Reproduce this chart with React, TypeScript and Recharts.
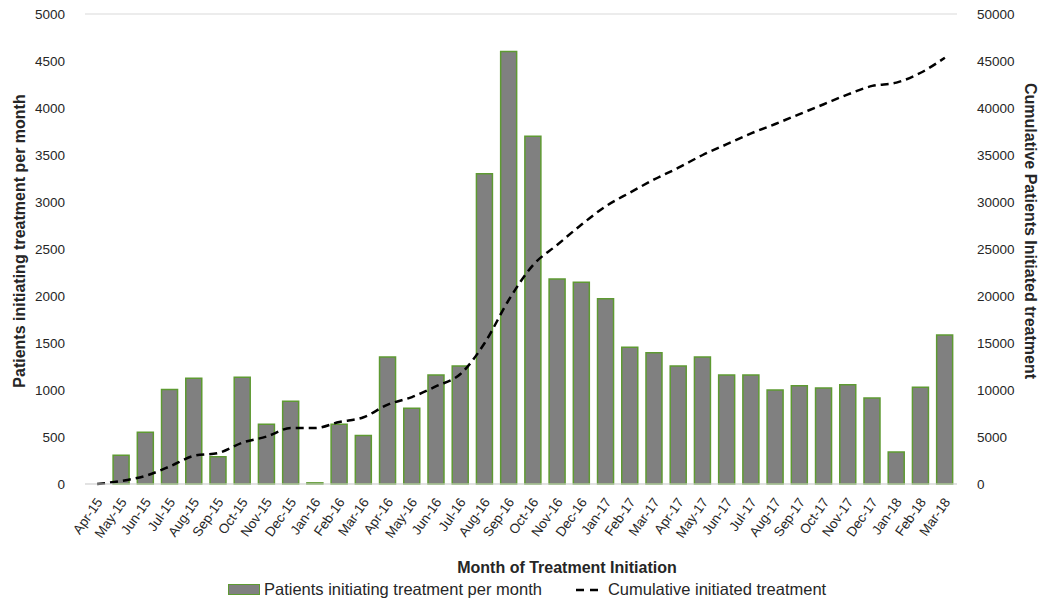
import {
  Bar,
  CartesianGrid,
  ComposedChart,
  Label,
  Line,
  XAxis,
  YAxis,
} from 'recharts';

const months = [
  'Apr-15', 'May-15', 'Jun-15', 'Jul-15', 'Aug-15', 'Sep-15', 'Oct-15', 'Nov-15', 'Dec-15',
  'Jan-16', 'Feb-16', 'Mar-16', 'Apr-16', 'May-16', 'Jun-16', 'Jul-16', 'Aug-16', 'Sep-16',
  'Oct-16', 'Nov-16', 'Dec-16', 'Jan-17', 'Feb-17', 'Mar-17', 'Apr-17', 'May-17', 'Jun-17',
  'Jul-17', 'Aug-17', 'Sep-17', 'Oct-17', 'Nov-17', 'Dec-17', 'Jan-18', 'Feb-18', 'Mar-18',
];

// monthly initiations (left axis)
const perMonth = [
  0, 305, 550, 1005, 1125, 290, 1135, 635, 880,
  12, 635, 515, 1350, 805, 1160, 1255, 3300, 4600,
  3700, 2180, 2145, 1970, 1455, 1395, 1255, 1350, 1160,
  1160, 1000, 1045, 1020, 1055, 915, 340, 1030, 1585,
];

// cumulative line (right axis)
const cumulative = [
  0, 320, 870, 1870, 3000, 3300, 4400, 5050, 5950,
  5950, 6600, 7100, 8450, 9250, 10400, 11700, 15000, 19600,
  23300, 25450, 27600, 29550, 31000, 32400, 33650, 35000, 36150,
  37300, 38300, 39350, 40400, 41450, 42350, 42700, 43750, 45350,
];

const leftTicks = [0, 500, 1000, 1500, 2000, 2500, 3000, 3500, 4000, 4500, 5000];
const rightTicks = [0, 5000, 10000, 15000, 20000, 25000, 30000, 35000, 40000, 45000, 50000];

const data = months.map((m, i) => ({
  month: m,
  perMonth: perMonth[i],
  cumulative: cumulative[i],
}));

const FONT = '"Liberation Sans", Arial, sans-serif';
const TEXT = '#262626';
const BAR_FILL = '#808080';
const BAR_EDGE = '#5e9a32';

const MonthTick = ({ x, y, payload }: any) => (
  <text
    x={x + 3}
    y={y + 8}
    transform={`rotate(-55 ${x + 3} ${y + 8})`}
    textAnchor="end"
    dominantBaseline="middle"
    fontSize={13.5}
    fontFamily={FONT}
    fill={TEXT}
  >
    {payload.value}
  </text>
);

export default function App() {
  return (
    <div style={{ position: 'absolute', left: 0, top: 0, width: 1050, height: 605, background: '#fff' }}>
      <ComposedChart
        width={1050}
        height={605}
        data={data}
        margin={{ top: 14, right: 23, left: 25, bottom: 0 }}
        barCategoryGap="16%"
      >
        <CartesianGrid vertical={false} stroke="#d9d9d9" strokeWidth={1} />

        <XAxis
          dataKey="month"
          interval={0}
          height={121}
          tickLine={false}
          axisLine={{ stroke: '#d9d9d9' }}
          tick={<MonthTick />}
        >
          <Label
            value="Month of Treatment Initiation"
            position="insideBottom"
            offset={32}
            dx={46}
            style={{ fontFamily: FONT, fontSize: 16, fontWeight: 700, fill: TEXT }}
          />
        </XAxis>

        <YAxis
          yAxisId="left"
          width={60}
          domain={[0, 5000]}
          ticks={leftTicks}
          interval={0}
          axisLine={false}
          tickLine={false}
          tickMargin={14}
          tick={{ fontSize: 13.5, fontFamily: FONT, fill: TEXT }}
        >
          <Label
            value="Patients initiating treatment per month"
            angle={-90}
            position="insideLeft"
            offset={-6}
            dy={-8}
            style={{ textAnchor: 'middle', fontFamily: FONT, fontSize: 16, fontWeight: 700, fill: TEXT }}
          />
        </YAxis>

        <YAxis
          yAxisId="right"
          orientation="right"
          width={70}
          domain={[0, 50000]}
          ticks={rightTicks}
          interval={0}
          axisLine={false}
          tickLine={false}
          tickMargin={14}
          tick={{ fontSize: 13.5, fontFamily: FONT, fill: TEXT }}
        >
          <Label
            value="Cumulative Patients Initiated treatment"
            angle={90}
            position="insideRight"
            offset={-4}
            dy={-18}
            style={{ textAnchor: 'middle', fontFamily: FONT, fontSize: 16, fontWeight: 700, fill: TEXT }}
          />
        </YAxis>

        <Bar
          yAxisId="left"
          dataKey="perMonth"
          fill={BAR_FILL}
          stroke={BAR_EDGE}
          strokeWidth={1.5}
          isAnimationActive={false}
        />
        <Line
          yAxisId="right"
          dataKey="cumulative"
          type="monotone"
          stroke="#000"
          strokeWidth={2.5}
          strokeDasharray="8 5"
          dot={false}
          activeDot={false}
          isAnimationActive={false}
        />
      </ComposedChart>

      {/* Legend */}
      <div
        style={{
          position: 'absolute',
          top: 580,
          left: 228,
          display: 'flex',
          alignItems: 'center',
          fontFamily: FONT,
          fontSize: 16.5,
          color: TEXT,
          whiteSpace: 'nowrap',
        }}
      >
        <div style={{ width: 30, height: 9, background: BAR_FILL, border: `1.5px solid ${BAR_EDGE}`, marginRight: 4 }} />
        <span>Patients initiating treatment per month</span>
        <svg width={22} height={10} style={{ marginLeft: 34, marginRight: 10 }}>
          <line x1={0} y1={5} x2={22} y2={5} stroke="#000" strokeWidth={2.5} strokeDasharray="8 6" />
        </svg>
        <span>Cumulative initiated treatment</span>
      </div>
    </div>
  );
}
